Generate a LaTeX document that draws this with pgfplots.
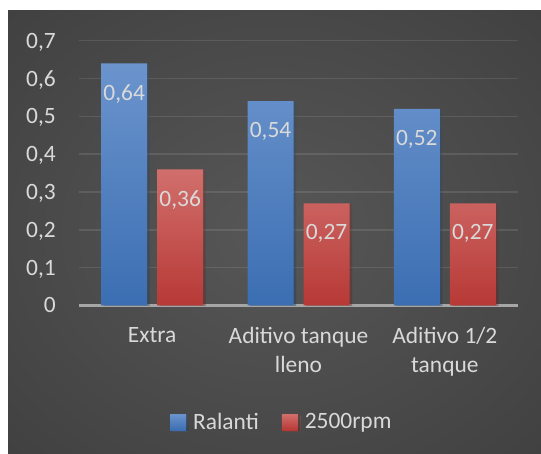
\documentclass[border=0pt]{standalone}
\usepackage{pgfplots}
\pgfplotsset{compat=1.18}
\usepackage{fontspec}
\setmainfont{Carlito}

\definecolor{bgin}{HTML}{575757}
\definecolor{bgout}{HTML}{2A2A2A}
\definecolor{txt}{HTML}{D9D9D9}
\definecolor{basec}{HTML}{A6A6A6}
\definecolor{blueTop}{HTML}{6B94CD}
\definecolor{blueBot}{HTML}{3B6EB2}
\definecolor{redTop}{HTML}{D16F6C}
\definecolor{redBot}{HTML}{B73936}

% soft radial backdrop, lighter in the middle
\pgfdeclareradialshading{chartbg}{\pgfpoint{0bp}{0bp}}{color(0bp)=(bgin); color(72bp)=(bgout)}

\newcommand{\chartfont}{\fontsize{23.5}{29}\selectfont}

\begin{document}
\begin{tikzpicture}[x=1bp,y=1bp]
\path[use as bounding box] (0,0) rectangle (541,454);
\fill[white] (0,0) rectangle (541,454);
\shade[shading=chartbg] (8,0) rectangle (541,443);
\begin{axis}[
  at={(79bp,148.5bp)}, anchor=south west,
  scale only axis, width=439bp, height=264.8bp,
  ybar=10bp, bar width=46bp,
  xmin=-0.5, xmax=2.5, ymin=0, ymax=0.7,
  xtick={0,1,2},
  xticklabels={Extra, {Aditivo tanque\\lleno}, {Aditivo 1/2\\tanque}},
  ytick={0,0.1,0.2,0.3,0.4,0.5,0.6,0.7},
  yticklabel={\pgfmathprintnumber[fixed,precision=1,use comma,assume math mode=true]{\tick}},
  every tick label/.append style={font=\chartfont, text=txt},
  y tick label style={anchor=base east, inner sep=0pt, xshift=-23bp, yshift=-7.5bp},
  x tick label style={align=center, anchor=north, inner sep=0pt, yshift=-22bp},
  ymajorgrids,
  grid style={white, opacity=0.1, line width=1.4bp},
  axis x line*=bottom, axis y line*=left,
  y axis line style={draw=none},
  x axis line style={basec, line width=2.4bp},
  major tick length=0pt, tick style={draw=none},
  nodes near coords={\pgfmathprintnumber[fixed,fixed zerofill,precision=2,use comma,assume math mode=true]{\pgfplotspointmeta}},
  every node near coord/.append style={anchor=north, inner sep=0pt, yshift=-21bp, text=txt, font=\chartfont},
  barshadow/.style={preaction={fill=black, opacity=0.22, transform canvas={xshift=2.5bp, yshift=-1bp}}},
  legend columns=2,
  legend style={at={(axis description cs:0.462,-0.44)}, anchor=center,
    draw=none, fill=none, text=txt, font=\chartfont, inner sep=0pt,
    /tikz/every odd column/.append style={column sep=5bp},
    /tikz/every even column/.append style={column sep=21bp}},
]
\addplot[draw=none, barshadow, top color=blueTop, bottom color=blueBot,
  legend image code/.code={\fill[blueTop!60!blueBot] (0bp,-8bp) rectangle (16bp,8bp);}]
  coordinates {(0,0.64) (1,0.54) (2,0.52)};
\addplot[draw=none, barshadow, top color=redTop, bottom color=redBot,
  legend image code/.code={\fill[redTop!50!redBot] (0bp,-8bp) rectangle (16bp,8bp);}]
  coordinates {(0,0.36) (1,0.27) (2,0.27)};
\legend{Ralanti, 2500rpm}
\end{axis}
\end{tikzpicture}
\end{document}
